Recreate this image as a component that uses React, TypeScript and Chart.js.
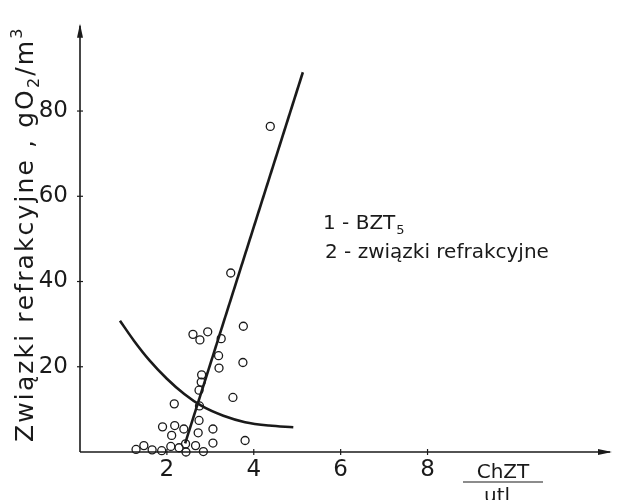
import React, { useEffect, useRef } from "react";
import { Chart, registerables } from "chart.js";

Chart.register(...registerables);

// Axis ticks
const xTickValues = [2, 4, 6, 8];
const yTickValues = [20, 40, 60, 80];

// Observations (ChZT/utl vs związki refrakcyjne)
const obsX = [2.6, 2.76, 2.94, 3.25, 3.76, 3.19, 3.2, 3.75, 2.8, 2.79, 2.74, 3.52, 2.17, 2.75, 2.74, 1.9, 2.18, 2.39, 3.06, 2.11, 2.72, 3.8, 3.06, 2.66, 2.43, 2.09, 2.28, 1.47, 1.29, 1.66, 1.88, 2.44, 2.84, 3.47, 4.38];
const obsY = [27.6, 26.3, 28.2, 26.6, 29.5, 22.6, 19.7, 21.0, 18.1, 16.4, 14.5, 12.8, 11.3, 10.8, 7.4, 5.9, 6.2, 5.4, 5.4, 3.9, 4.5, 2.7, 2.1, 1.5, 1.9, 1.3, 1.0, 1.5, 0.6, 0.5, 0.3, 0.0, 0.1, 42.0, 76.4];

// Curve 1 - BZT5 (straight line)
const bztX = [2.42, 5.13];
const bztY = [2.0, 89.1];

// Curve 2 - związki refrakcyjne
const refrX = [0.92, 1.25, 1.6, 2.0, 2.4, 2.8, 3.3, 3.8, 4.35, 4.91];
const refrY = [30.8, 26.0, 21.5, 17.2, 13.6, 10.8, 8.5, 7.0, 6.2, 5.8];

const legendLine1 = "1 - BZT";
const legendLine1Sub = "5";
const legendLine2 = "2 - związki refrakcyjne";
const yTitleMain = "Związki refrakcyjne , gO";
const yTitleSub = "2";
const yTitleMid = "/m";
const yTitleSup = "3";
const xTitleTop = "ChZT";
const xTitleBottom = "utl";

const FONT = '"DejaVu Sans", "Liberation Sans", sans-serif';
const INK = "#1a1a1a";

const decorPlugin = {
  id: "decor",
  afterDraw(chart: any) {
    const { ctx, chartArea, scales } = chart;
    const xs = scales.x;
    const ys = scales.y;
    const x0 = xs.getPixelForValue(0);
    const y0 = ys.getPixelForValue(0);
    ctx.save();
    ctx.strokeStyle = INK;
    ctx.fillStyle = INK;
    ctx.lineWidth = 1.6;
    // y axis
    ctx.beginPath();
    ctx.moveTo(x0, y0);
    ctx.lineTo(x0, chartArea.top);
    ctx.stroke();
    ctx.beginPath();
    ctx.moveTo(x0, chartArea.top - 2);
    ctx.lineTo(x0 - 3, chartArea.top + 12);
    ctx.lineTo(x0 + 3, chartArea.top + 12);
    ctx.closePath();
    ctx.fill();
    // x axis
    ctx.beginPath();
    ctx.moveTo(x0, y0);
    ctx.lineTo(chartArea.right, y0);
    ctx.stroke();
    ctx.beginPath();
    ctx.moveTo(chartArea.right + 2, y0);
    ctx.lineTo(chartArea.right - 12, y0 - 3);
    ctx.lineTo(chartArea.right - 12, y0 + 3);
    ctx.closePath();
    ctx.fill();
    // tick marks
    ctx.lineWidth = 1.2;
    xTickValues.forEach((v) => {
      const px = xs.getPixelForValue(v);
      ctx.beginPath();
      ctx.moveTo(px, y0 - 3);
      ctx.lineTo(px, y0 + 3);
      ctx.stroke();
    });
    yTickValues.forEach((v) => {
      const py = ys.getPixelForValue(v);
      ctx.beginPath();
      ctx.moveTo(x0 - 3, py);
      ctx.lineTo(x0 + 3, py);
      ctx.stroke();
    });

    // legend text
    ctx.textBaseline = "alphabetic";
    ctx.textAlign = "left";
    ctx.font = `20px ${FONT}`;
    const lx = 323;
    ctx.fillText(legendLine1, lx, 229);
    const w1 = ctx.measureText(legendLine1).width;
    ctx.font = `13px ${FONT}`;
    ctx.fillText(legendLine1Sub, lx + w1 + 1, 234);
    ctx.font = `20px ${FONT}`;
    ctx.fillText(legendLine2, lx + 2, 258);

    // x axis title (fraction)
    ctx.textAlign = "center";
    ctx.font = `20px ${FONT}`;
    ctx.fillText(xTitleTop, 503, 478);
    ctx.lineWidth = 1.2;
    ctx.beginPath();
    ctx.moveTo(463, 482);
    ctx.lineTo(543, 482);
    ctx.stroke();
    ctx.fillText(xTitleBottom, 497, 502);

    // y axis title (rotated), spread along the axis from ~y=442 up to ~y=25
    ctx.save();
    ctx.translate(33, 442);
    ctx.rotate(-Math.PI / 2);
    ctx.textAlign = "left";
    const big = `25px ${FONT}`;
    const small = `16px ${FONT}`;
    ctx.font = big;
    const natural =
      ctx.measureText(yTitleMain).width + ctx.measureText(yTitleMid).width +
      (() => { ctx.font = small; const w = ctx.measureText(yTitleSub).width + ctx.measureText(yTitleSup).width; ctx.font = big; return w; })();
    const nChars = yTitleMain.length + yTitleMid.length + 2;
    const target = 415;
    const spacing = Math.max(0, (target - natural) / nChars);
    const drawSpaced = (txt: string, x: number, y: number) => {
      let cx2 = x;
      for (const ch of txt) {
        ctx.fillText(ch, cx2, y);
        cx2 += ctx.measureText(ch).width + spacing;
      }
      return cx2;
    };
    let cx = 0;
    ctx.font = big;
    cx = drawSpaced(yTitleMain, cx, 0);
    ctx.font = small;
    cx = drawSpaced(yTitleSub, cx, 6);
    ctx.font = big;
    cx = drawSpaced(yTitleMid, cx, 0);
    ctx.font = small;
    drawSpaced(yTitleSup, cx, -11);
    ctx.restore();

    ctx.restore();
  },
};

export default function App() {
  const canvasRef = useRef<HTMLCanvasElement | null>(null);

  useEffect(() => {
    const canvas = canvasRef.current;
    if (!canvas) return;
    const chart = new Chart(canvas, {
      type: "scatter",
      data: {
        datasets: [
          {
            type: "line",
            label: "2",
            data: refrX.map((x, i) => ({ x, y: refrY[i] })),
            borderColor: INK,
            borderWidth: 2.6,
            pointRadius: 0,
            cubicInterpolationMode: "monotone",
            fill: false,
          } as any,
          {
            type: "line",
            label: "1",
            data: bztX.map((x, i) => ({ x, y: bztY[i] })),
            borderColor: INK,
            borderWidth: 2.6,
            pointRadius: 0,
            fill: false,
          } as any,
          {
            type: "scatter",
            label: "obs",
            data: obsX.map((x, i) => ({ x, y: obsY[i] })),
            pointStyle: "circle",
            pointRadius: 4,
            pointBorderWidth: 1.3,
            borderColor: INK,
            backgroundColor: "rgba(255,255,255,0)",
            clip: false,
          } as any,
        ],
      },
      options: {
        animation: false,
        responsive: false,
        maintainAspectRatio: false,
        layout: { padding: { top: 13, right: 7, left: 0, bottom: 0 } },
        plugins: {
          legend: { display: false },
          tooltip: { enabled: false },
        },
        scales: {
          x: {
            type: "linear",
            min: 0,
            max: 12.2,
            grid: { display: false, drawTicks: false },
            border: { display: false },
            ticks: {
              stepSize: 2,
              padding: 4,
              color: INK,
              font: { family: FONT, size: 23 },
              callback: (v: any) => (xTickValues.includes(Number(v)) ? String(v) : ""),
            },
            afterFit: (s: any) => {
              s.height = 48;
            },
          },
          y: {
            type: "linear",
            min: 0,
            max: 100,
            grid: { display: false, drawTicks: false },
            border: { display: false },
            ticks: {
              stepSize: 20,
              padding: 12,
              color: INK,
              font: { family: FONT, size: 23 },
              callback: (v: any) => (yTickValues.includes(Number(v)) ? String(v) : ""),
            },
            afterFit: (s: any) => {
              s.width = 80;
            },
          },
        },
      },
      plugins: [decorPlugin],
    } as any);
    return () => chart.destroy();
  }, []);

  return (
    <div style={{ position: "absolute", left: 0, top: 0, width: 617, height: 500, background: "#fff" }}>
      <canvas ref={canvasRef} width={617} height={500} style={{ width: 617, height: 500 }} />
    </div>
  );
}
